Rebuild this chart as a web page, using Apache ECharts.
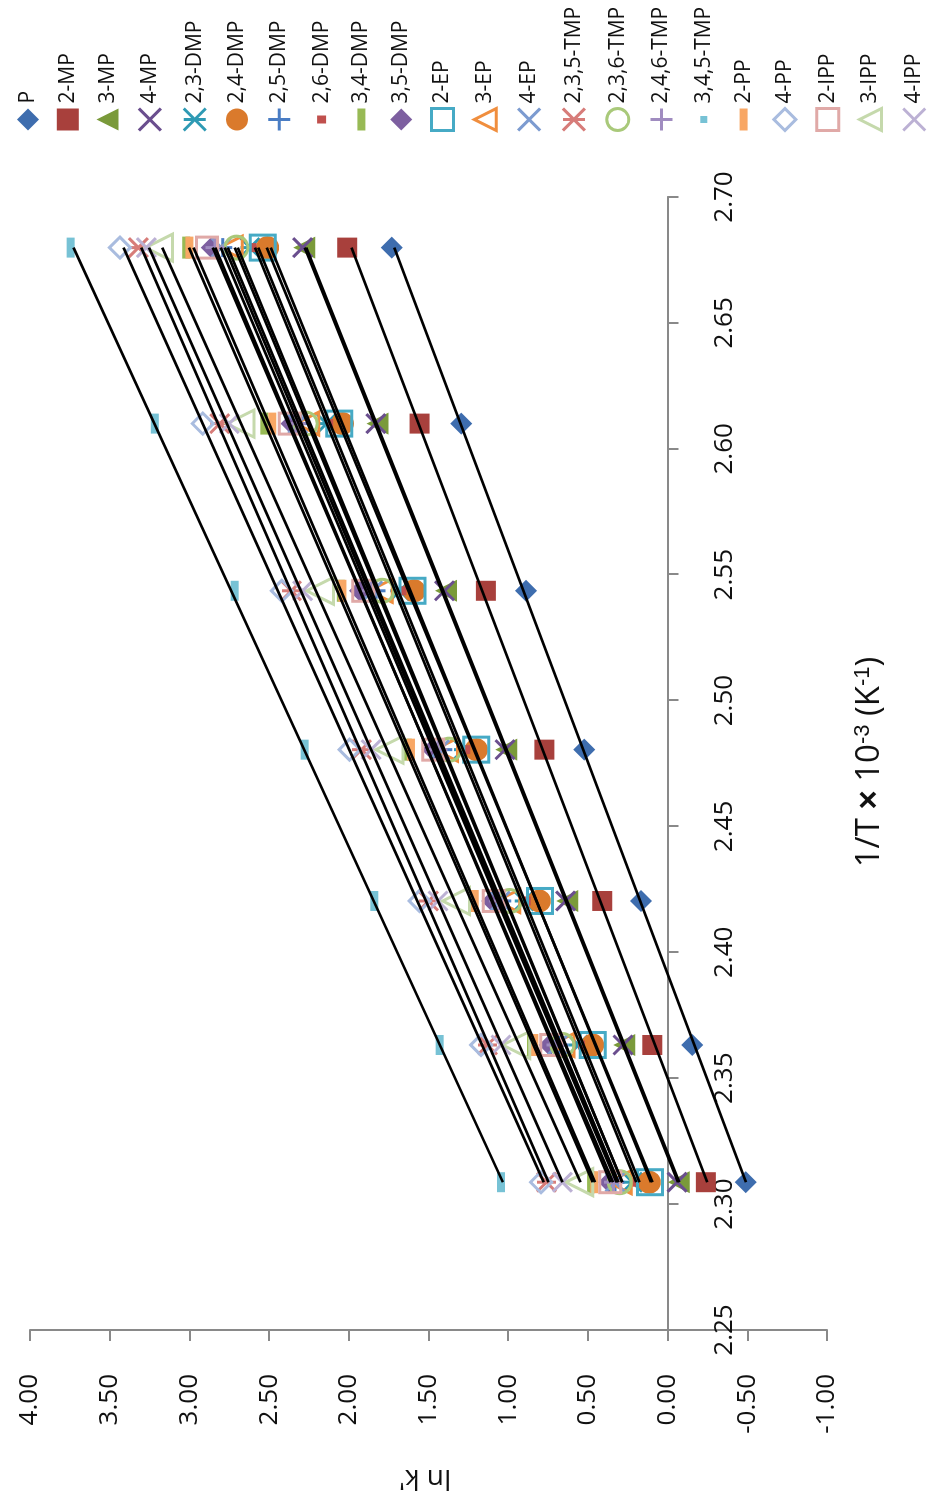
<!DOCTYPE html>
<html><head><meta charset="utf-8">
<script src="https://cdn.jsdelivr.net/npm/echarts@6/dist/echarts.min.js"></script>
<style>
html,body{margin:0;padding:0;background:#fff;width:930px;height:1504px;overflow:hidden}
#chart{position:absolute;left:0;top:0;width:1504px;height:930px;transform-origin:0 0;transform:translateY(1504px) rotate(-90deg);}
</style></head><body><div id="chart"></div>
<script>
// 1/T x 10^-3 (K^-1) for 160,150,140,130,120,110,100 °C
const invT = [2.3087, 2.3632, 2.4204, 2.4805, 2.5436, 2.6100, 2.6799];

// ln k' values at each 1/T
const P        = [-0.49, -0.155, 0.167, 0.523, 0.888, 1.295, 1.73];
const MP2      = [-0.24, 0.096, 0.41, 0.773, 1.14, 1.556, 2.01];
const MP3      = [-0.07, 0.272, 0.63, 1.013, 1.39, 1.82, 2.28];
const MP4      = [-0.06, 0.28, 0.64, 1.02, 1.40, 1.83, 2.29];
const DMP23    = [0.22, 0.56, 0.90, 1.28, 1.68, 2.14, 2.62];
const DMP24    = [0.115, 0.47, 0.805, 1.20, 1.59, 2.04, 2.51];
const DMP25    = [0.33, 0.68, 1.04, 1.41, 1.83, 2.30, 2.79];
const DMP26    = [0.20, 0.54, 0.88, 1.26, 1.66, 2.12, 2.60];
const DMP34    = [0.48, 0.857, 1.22, 1.63, 2.05, 2.53, 3.02];
const DMP35    = [0.366, 0.74, 1.10, 1.475, 1.93, 2.36, 2.86];
const EP2      = [0.11, 0.47, 0.80, 1.20, 1.60, 2.06, 2.54];
const EP3      = [0.30, 0.66, 1.00, 1.39, 1.80, 2.26, 2.74];
const EP4      = [0.33, 0.69, 1.05, 1.43, 1.85, 2.32, 2.80];
const TMP235   = [0.76, 1.13, 1.50, 1.92, 2.36, 2.81, 3.32];
const TMP236   = [0.30, 0.66, 0.99, 1.37, 1.79, 2.27, 2.705];
const TMP246   = [0.34, 0.70, 1.06, 1.44, 1.86, 2.33, 2.84];
const TMP345   = [1.045, 1.43, 1.84, 2.277, 2.716, 3.217, 3.745];
const PP2      = [0.46, 0.836, 1.21, 1.61, 2.04, 2.48, 3.00];
const PP4      = [0.794, 1.17, 1.556, 1.995, 2.42, 2.916, 3.436];
const IPP2     = [0.36, 0.73, 1.09, 1.47, 1.91, 2.37, 2.89];
const IPP3     = [0.554, 0.95, 1.327, 1.745, 2.18, 2.68, 3.19];
const IPP4     = [0.66, 1.045, 1.44, 1.86, 2.29, 2.75, 3.27];

const seriesNames = ['P','2-MP','3-MP','4-MP','2,3-DMP','2,4-DMP','2,5-DMP','2,6-DMP','3,4-DMP','3,5-DMP',
  '2-EP','3-EP','4-EP','2,3,5-TMP','2,3,6-TMP','2,4,6-TMP','3,4,5-TMP','2-PP','4-PP','2-IPP','3-IPP','4-IPP'];
const seriesValues = [P,MP2,MP3,MP4,DMP23,DMP24,DMP25,DMP26,DMP34,DMP35,EP2,EP3,EP4,TMP235,TMP236,TMP246,TMP345,PP2,PP4,IPP2,IPP3,IPP4];

// marker styles
const X = 'path://M0,0L10,10M10,0L0,10';
const STAR = 'path://M0,0L10,10M10,0L0,10M5,0L5,10';
const PLUS = 'path://M5,0L5,10M0,5L10,5';
const styles = [
  {sym:'diamond', c:'#3E6DAE', size:22, kind:'fill'},
  {sym:'rect', c:'#A8403C', size:20, kind:'fill'},
  {sym:'triangle', c:'#7A9A3A', size:22, kind:'fill'},
  {sym:X, c:'#6A4E8E', size:19, kind:'stroke'},
  {sym:STAR, c:'#2E9AB4', size:19, kind:'stroke'},
  {sym:'circle', c:'#DA7A2C', size:23, kind:'fill'},
  {sym:PLUS, c:'#4A7DC4', size:19, kind:'stroke'},
  {sym:'rect', c:'#C0504D', size:[9,7], kind:'fill', legend:'path://M0,0M22,22M7,6.5h8v9h-8z'},
  {sym:'rect', c:'#98BA55', size:[22,8], kind:'fill', legend:'path://M0,0M22,22M0,7h22v8h-22z'},
  {sym:'diamond', c:'#7D5FA0', size:22, kind:'fill'},
  {sym:'rect', c:'#46AAC5', size:25, kind:'hollow'},
  {sym:'triangle', c:'#F08E3E', size:23, kind:'hollow'},
  {sym:X, c:'#7C9BD0', size:19, kind:'stroke'},
  {sym:STAR, c:'#D77C79', size:19, kind:'stroke'},
  {sym:'circle', c:'#A9C97A', size:23, kind:'hollow'},
  {sym:PLUS, c:'#A08CC0', size:19, kind:'stroke'},
  {sym:'rect', c:'#77C2D5', size:[20,8], kind:'fill', legend:'path://M0,0M22,22M7.5,7.5h7v7h-7z'},
  {sym:'rect', c:'#F8A765', size:[22,8], kind:'fill', legend:'path://M0,0M22,22M0,7h22v8h-22z'},
  {sym:'diamond', c:'#A9BCDF', size:21, kind:'hollow'},
  {sym:'rect', c:'#E0A9A7', size:21, kind:'hollow'},
  {sym:'triangle', c:'#C5D9AC', size:27, kind:'hollow'},
  {sym:X, c:'#BCB1D4', size:19, kind:'stroke'}
];

function itemStyleOf(s){
  if (s.kind === 'fill') return {color:s.c, borderWidth:0, opacity:1};
  if (s.kind === 'hollow') return {color:'rgba(255,255,255,0)', borderColor:s.c, borderWidth:3, opacity:1};
  return {color:'none', borderColor:s.c, borderWidth:3, opacity:1};
}

function fitLine(xs, ys){
  const n = xs.length;
  let sx=0, sy=0, sxx=0, sxy=0;
  for (let i=0;i<n;i++){ sx+=xs[i]; sy+=ys[i]; sxx+=xs[i]*xs[i]; sxy+=xs[i]*ys[i]; }
  const b = (n*sxy - sx*sy)/(n*sxx - sx*sx);
  const a = (sy - b*sx)/n;
  const x0 = Math.min(...xs), x1 = Math.max(...xs);
  return [[x0, a+b*x0],[x1, a+b*x1]];
}

const series = [];
const legendData = [];
seriesNames.forEach((name, i) => {
  const s = styles[i];
  series.push({
    name: name, type: 'scatter', z: 2,
    symbol: s.sym, symbolSize: s.size,
    itemStyle: itemStyleOf(s),
    data: invT.map((x, j) => [x, seriesValues[i][j]])
  });
  legendData.push({name: name, icon: s.legend || s.sym, itemStyle: itemStyleOf(s)});
});
seriesNames.forEach((name, i) => {
  series.push({
    name: name + ' trend', type: 'line', z: 5, silent: true,
    symbol: 'none', lineStyle: {color:'#000', width:2.7},
    data: fitLine(invT, seriesValues[i])
  });
});

const chart = echarts.init(document.getElementById('chart'), null, {renderer:'canvas'});
const axisCol = '#898989';
chart.setOption({
  animation: false,
  backgroundColor: '#fff',
  textStyle: {fontFamily: 'Open Sans'},
  grid: {left: 174, right: 197, top: 30, bottom: 103, containLabel: false},
  xAxis: {
    type: 'value', min: 2.25, max: 2.70, interval: 0.05,
    axisLine: {onZero: true, lineStyle: {color: axisCol, width: 2}},
    axisTick: {show: true, length: 11, lineStyle: {color: axisCol, width: 2}},
    axisLabel: {margin: -115, fontSize: 26, color: '#111', fontFamily: 'Open Sans', formatter: v => v.toFixed(2)},
    splitLine: {show: false}
  },
  yAxis: {
    type: 'value', min: -1, max: 4, interval: 0.5,
    axisLine: {show: true, lineStyle: {color: axisCol, width: 2}},
    axisTick: {show: true, length: 11, lineStyle: {color: axisCol, width: 2}},
    axisLabel: {margin: 44, fontSize: 26, color: '#111', fontFamily: 'Open Sans', formatter: v => v.toFixed(2)},
    splitLine: {show: false}
  },
  legend: {
    orient: 'vertical', left: 1366, top: 12, height: 1100,
    itemWidth: 22, itemHeight: 22, itemGap: 17.8,
    textStyle: {fontSize: 21, lineHeight: 22, color: '#111', fontFamily: 'Open Sans'},
    data: legendData
  },
  graphic: [
    {type:'text', x: 742, y: 870, style: {
      text: '1/T {b|×} 10{s|-3} (K{s|-1})', fill:'#111', font:'500 33px "Open Sans"',
      textAlign:'center', textVerticalAlign:'middle',
      rich: {b:{fontSize:33, fontWeight:'bold', fill:'#111'}, s:{fontSize:22, verticalAlign:'top', padding:[0,0,15,0], fill:'#111'}}
    }},
    {type:'text', x: 26, y: 425, rotation: Math.PI/2, style: {
      text: "ln k'", fill:'#111', font:'28px "Open Sans"', textAlign:'center', textVerticalAlign:'middle'
    }}
  ],
  series: series
});
</script></body></html>
